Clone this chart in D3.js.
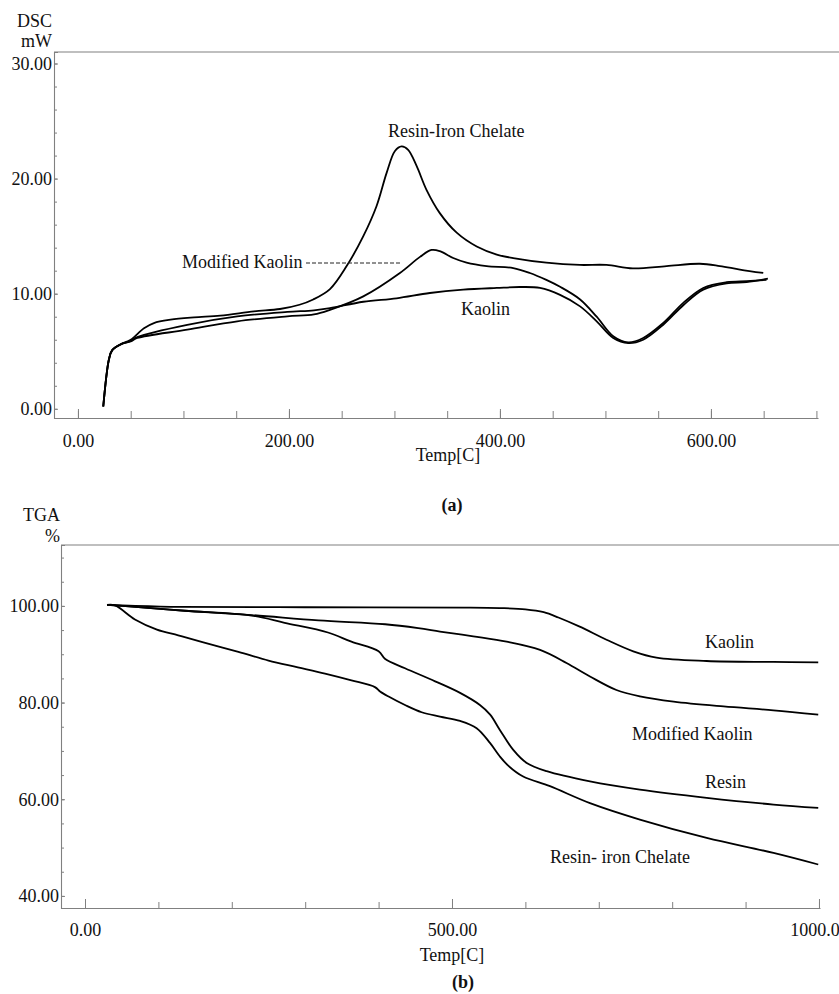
<!DOCTYPE html>
<html>
<head>
<meta charset="utf-8">
<script src="https://cdn.jsdelivr.net/npm/d3@7"></script>
<style>
  body { margin: 0; background: #fff; }
  svg text { font-family: "Liberation Serif", "Times New Roman", serif; fill: #111; }
</style>
</head>
<body>
<svg id="fig" width="839" height="994"></svg>
<script>
// ---- DSC curves, [temperature °C, heat flow mW] ----
const dscResinIron = [[24,0.2],[29.4,4.3],[32.5,5.1],[40.5,5.6],[50,6.0],[62.6,7.0],[72,7.45],[87.8,7.74],[110,7.94],[135,8.09],[166.8,8.46],[191.5,8.67],[210,9.04],[223,9.5],[238.9,10.4],[254.7,12.4],[270.5,15.0],[283,17.6],[292.6,20.5],[300.5,22.4],[306.8,22.8],[313,22.5],[321,21.1],[330.5,19.0],[343,17.0],[359,15.3],[378,14.1],[397,13.4],[412.6,13.1],[444,12.7],[475.8,12.5],[501,12.5],[526,12.2],[558,12.4],[589.6,12.6],[608.5,12.4],[627.5,12.1],[649.6,11.8]];
const dscModKaolin = [[24,0.2],[29.4,4.3],[32.5,5.1],[40.5,5.6],[50,5.85],[56.2,6.15],[103.6,6.87],[151,7.6],[198.4,8.03],[223.7,8.2],[238.9,8.6],[270.5,9.77],[305.2,11.8],[324.2,13.2],[335.2,13.8],[343,13.7],[355.7,13.1],[368.4,12.7],[387.4,12.4],[412.6,12.23],[428.4,11.8],[444,11.2],[457,10.6],[476,9.5],[491.7,8.0],[507.4,6.3],[521.6,5.77],[535.8,6.15],[554.8,7.45],[573.8,9.2],[592.7,10.5],[614.9,11.0],[633.8,11.1],[652.7,11.2]];
const dscKaolin = [[24,0.2],[29.4,4.3],[32.5,5.1],[40.5,5.6],[50,5.9],[56.2,6.23],[103.6,7.3],[151,8.03],[198.4,8.42],[223.7,8.56],[238.9,8.75],[270.5,9.3],[302,9.6],[333.6,10.06],[365.2,10.35],[397,10.5],[419,10.58],[438,10.5],[457,9.9],[476,8.9],[491.7,7.6],[507.4,6.15],[521.6,5.7],[535.8,6.0],[554.8,7.3],[573.8,9.0],[592.7,10.35],[614.9,10.9],[633.8,11.0],[654,11.3]];

// ---- TGA curves, [temperature °C, mass %] ----
const tgaKaolin = [[30,100.2],[60,100.05],[130,99.8],[300,99.72],[517,99.65],[565,99.55],[600,99.3],[625,98.7],[645,97.6],[674,95.7],[710.5,93.0],[747,90.6],[778.6,89.3],[847,88.6],[938,88.4],[999,88.3]];
const tgaModKaolin = [[30,100.2],[60,99.9],[136,99.0],[227,98.1],[318,97.0],[409,96.2],[454,95.4],[483.7,94.7],[529,93.7],[574.5,92.6],[620,90.9],[656,88.2],[688,85.4],[724,82.6],[756,81.3],[802,80.2],[870,79.2],[938,78.4],[999,77.5]];
const tgaResin = [[30,100.2],[60,99.9],[136,99.0],[227,98.0],[272,96.5],[331,94.5],[363,92.6],[400,90.6],[409,89.0],[436,87.1],[477,84.4],[511,82.0],[538,79.5],[552,77.5],[565,74.4],[583.5,70.2],[601.8,67.5],[629,65.8],[688,63.7],[756,62.0],[847,60.3],[938,58.9],[999,58.2]];
const tgaResinIron = [[30,100.2],[40.9,100.1],[68,97.2],[98,95.1],[127,93.9],[160,92.5],[209,90.5],[250,88.7],[290,87.3],[327,86.0],[363,84.6],[395,83.2],[402,82.3],[413,81.3],[436,79.5],[458.7,78.0],[483.7,77.1],[511,76.2],[533.6,74.7],[552,71.6],[565,68.9],[577,66.9],[597,64.7],[633.5,62.7],[688,59.2],[756,55.8],[847,52.0],[938,48.9],[999,46.5]];

// ---- tick values ----
const dscXTicks = [0, 200, 400, 600];
const dscXMinor = d3.range(0, 701, 50);
const dscYTicks = [0, 10, 20, 30];
const dscYMinor = d3.range(0, 31, 2);
const tgaXTicks = [0, 500, 1000];
const tgaXMinor = d3.range(0, 1001, 100);
const tgaYTicks = [40, 60, 80, 100];
const tgaYMinor = d3.range(40, 111, 5);

const svg = d3.select("#fig");
const AXIS = "#808080";
const FS = 18;

function styleAxis(g) {
  g.attr("font-family", null).attr("font-size", null);
  g.selectAll("path.domain").attr("stroke", AXIS).attr("stroke-width", 1.1);
  g.selectAll(".tick line").attr("stroke", AXIS).attr("stroke-width", 1);
  g.selectAll(".tick text").attr("font-size", FS).attr("fill", "#111");
}
function noDomain(g) { g.select("path.domain").remove(); }

function label(txt, x, y, anchor, weight) {
  svg.append("text").attr("x", x).attr("y", y)
    .attr("text-anchor", anchor || "start")
    .attr("font-size", FS)
    .attr("font-weight", weight || "normal")
    .text(txt);
}

function drawPanel(cfg) {
  const x = d3.scaleLinear().domain(cfg.xDom).range([cfg.left, cfg.right]);
  const y = d3.scaleLinear().domain(cfg.yDom).range([cfg.bottom, cfg.top]);

  // frame top line
  svg.append("line").attr("x1", cfg.left).attr("x2", 839)
    .attr("y1", cfg.top).attr("y2", cfg.top)
    .attr("stroke", AXIS).attr("stroke-width", 1.1);

  // x axis: domain + labels
  svg.append("g").attr("transform", `translate(0,${cfg.bottom})`)
    .call(d3.axisBottom(x).tickValues(cfg.xTicks).tickSize(0).tickPadding(cfg.xPad)
      .tickFormat(d3.format(".2f")))
    .call(styleAxis);
  // x ticks pointing inward
  svg.append("g").attr("transform", `translate(0,${cfg.bottom})`)
    .call(d3.axisBottom(x).tickValues(cfg.xMinor).tickSize(-cfg.xMinorLen).tickFormat(""))
    .call(styleAxis).call(noDomain);
  svg.append("g").attr("transform", `translate(0,${cfg.bottom})`)
    .call(d3.axisBottom(x).tickValues(cfg.xTicks).tickSize(-cfg.xMajorLen).tickFormat(""))
    .call(styleAxis).call(noDomain);

  // y axis: domain + labels + inward major ticks
  svg.append("g").attr("transform", `translate(${cfg.left},0)`)
    .call(d3.axisLeft(y).tickValues(cfg.yTicks).tickSize(-4).tickPadding(2)
      .tickFormat(d3.format(".2f")))
    .call(styleAxis);
  svg.append("g").attr("transform", `translate(${cfg.left},0)`)
    .call(d3.axisLeft(y).tickValues(cfg.yMinor).tickSize(-3).tickFormat(""))
    .call(styleAxis).call(noDomain);

  const line = d3.line().x(d => x(d[0])).y(d => y(d[1])).curve(d3.curveCatmullRom.alpha(0.5));
  cfg.series.forEach(s => {
    svg.append("path").datum(s)
      .attr("fill", "none").attr("stroke", "#000")
      .attr("stroke-width", 1.8).attr("stroke-linejoin", "round")
      .attr("d", line);
  });
  return { x, y };
}

// (a) DSC
drawPanel({
  left: 54, right: 818, top: 52, bottom: 418,
  xDom: [-22.7, 701.5], yDom: [-0.8, 31.0],
  xTicks: dscXTicks, xMinor: dscXMinor, xPad: 16, xMinorLen: 7, xMajorLen: 9,
  yTicks: dscYTicks, yMinor: dscYMinor,
  series: [dscKaolin, dscModKaolin, dscResinIron]
});
label("DSC", 52, 27, "end");
label("mW", 52, 47, "end");
label("Temp[C]", 448, 461, "middle");
label("(a)", 452, 511, "middle", "bold");
label("Resin-Iron Chelate", 388, 137);
label("Kaolin", 461, 315);
label("Modified Kaolin", 182, 268);
svg.append("line").attr("x1", 306).attr("x2", 400).attr("y1", 263).attr("y2", 263)
  .attr("stroke", "#222").attr("stroke-width", 1).attr("stroke-dasharray", "4,2");

// (b) TGA
drawPanel({
  left: 61, right: 820, top: 545, bottom: 908,
  xDom: [-32.7, 1001.4], yDom: [37.5, 112.6],
  xTicks: tgaXTicks, xMinor: tgaXMinor, xPad: 15, xMinorLen: 6, xMajorLen: 9,
  yTicks: tgaYTicks, yMinor: tgaYMinor,
  series: [tgaKaolin, tgaModKaolin, tgaResin, tgaResinIron]
});
label("TGA", 60, 521, "end");
label("%", 60, 542, "end");
label("Temp[C]", 452, 961, "middle");
label("(b)", 463, 988, "middle", "bold");
label("Kaolin", 705, 648);
label("Modified Kaolin", 632, 740);
label("Resin", 705, 788);
label("Resin- iron Chelate", 550, 863);
</script>
</body>
</html>
